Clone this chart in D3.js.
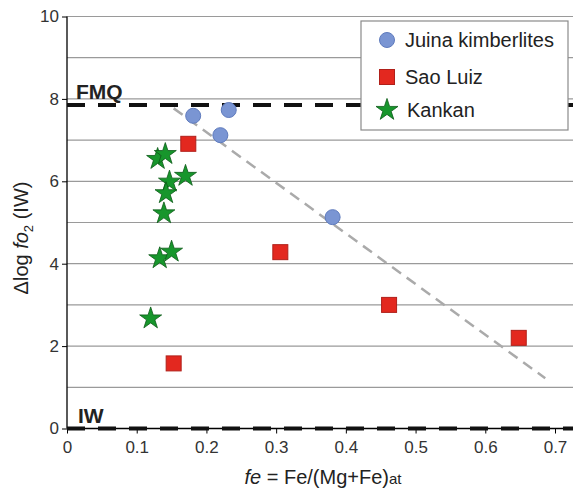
<!DOCTYPE html>
<html>
<head>
<meta charset="utf-8">
<script src="https://cdn.jsdelivr.net/npm/d3@7"></script>
<style>
  body { margin: 0; background: #fff; }
  svg text { font-family: "Liberation Sans", Arial, sans-serif; }
</style>
</head>
<body>
<div id="chart"></div>
<script>
'use strict';

// data
var juina = [[0.181, 7.59], [0.232, 7.73], [0.220, 7.12], [0.381, 5.13]];
var saoLuiz = [[0.174, 6.91], [0.306, 4.28], [0.462, 3.0], [0.648, 2.2], [0.153, 1.58]];
var kankan = [[0.130, 6.54], [0.141, 6.66], [0.147, 5.99], [0.170, 6.13], [0.142, 5.71],
              [0.139, 5.22], [0.133, 4.13], [0.150, 4.29], [0.120, 2.67]];
var trend = [[0.153, 7.77], [0.686, 1.22]];
var fmq = 7.85, iw = 0;
var xTicks = [0, 0.1, 0.2, 0.3, 0.4, 0.5, 0.6, 0.7];
var yTicks = [0, 2, 4, 6, 8, 10];
var legendNames = ['Juina kimberlites', 'Sao Luiz', 'Kankan'];

var width = 573, height = 492;
var plotLeft = 67, plotTop = 16.5, plotBottom = 428.5;

var x = d3.scaleLinear().domain([0, 0.7]).range([plotLeft, 555]);
var y = d3.scaleLinear().domain([0, 10]).range([plotBottom, plotTop]);

var svg = d3.select('#chart').append('svg')
    .attr('width', width)
    .attr('height', height);

// horizontal grid lines
svg.append('g').selectAll('line')
    .data(d3.range(1, 11))
    .enter().append('line')
    .attr('x1', plotLeft).attr('x2', width)
    .attr('y1', function(d) { return y(d); })
    .attr('y2', function(d) { return y(d); })
    .style('stroke', '#9a9a9a')
    .style('stroke-width', 1.2);

// y axis
var yAxis = d3.axisLeft(y).tickValues(yTicks).tickSize(5).tickFormat(d3.format('d'));
var gy = svg.append('g').attr('transform', 'translate(' + plotLeft + ',0)').call(yAxis);
gy.select('.domain').attr('d', 'M0,' + plotTop + 'V' + plotBottom).style('stroke-width', 1.3);
gy.selectAll('text').style('font-size', '17px').attr('x', -8).style('fill', '#333');

// x axis
var xAxis = d3.axisBottom(x).tickValues(xTicks).tickSize(5)
    .tickFormat(function(d) { return d === 0 ? '0' : d3.format('.1f')(d); });
var gx = svg.append('g').attr('transform', 'translate(0,' + plotBottom + ')').call(xAxis);
gx.select('.domain').attr('d', 'M' + plotLeft + ',0H' + width).style('stroke-width', 1.3);
gx.selectAll('text').style('font-size', '17px').attr('y', 12).style('fill', '#333');

// FMQ and IW buffers
svg.selectAll('.buffer')
    .data([fmq, iw])
    .enter().append('line')
    .attr('class', 'buffer')
    .attr('x1', plotLeft).attr('x2', width)
    .attr('y1', function(d) { return y(d); })
    .attr('y2', function(d) { return y(d); })
    .style('stroke', '#111')
    .style('stroke-width', 4)
    .style('stroke-dasharray', '18,13');

svg.append('text').attr('x', plotLeft + 9).attr('y', y(fmq) - 6)
    .style('font-size', '21px').style('font-weight', 'bold').style('fill', '#222')
    .text('FMQ');
svg.append('text').attr('x', plotLeft + 11).attr('y', y(iw) - 6)
    .style('font-size', '21px').style('font-weight', 'bold').style('fill', '#222')
    .text('IW');

// trend line
svg.append('line')
    .attr('x1', x(trend[0][0])).attr('y1', y(trend[0][1]))
    .attr('x2', x(trend[1][0])).attr('y2', y(trend[1][1]))
    .style('stroke', '#aaa')
    .style('stroke-width', 2.5)
    .style('stroke-dasharray', '11,7');

var star = d3.symbol().type(d3.symbolStar).size(150);

function drawCircle(sel) {
    sel.attr('r', 7.5)
        .style('fill', '#7a95d3')
        .style('stroke', '#5f7bbd')
        .style('stroke-width', 1);
}
function drawSquare(sel) {
    sel.attr('width', 15).attr('height', 15)
        .style('fill', '#e3281f')
        .style('stroke', '#b0201a')
        .style('stroke-width', 1);
}
function drawStar(sel) {
    sel.attr('d', star)
        .style('fill', '#17962c')
        .style('stroke', '#0c5a18')
        .style('stroke-width', 0.8);
}

svg.append('g').selectAll('rect')
    .data(saoLuiz).enter().append('rect')
    .attr('x', function(d) { return x(d[0]) - 7.5; })
    .attr('y', function(d) { return y(d[1]) - 7.5; })
    .call(drawSquare);

svg.append('g').selectAll('path')
    .data(kankan).enter().append('path')
    .attr('transform', function(d) { return 'translate(' + x(d[0]) + ',' + y(d[1]) + ')'; })
    .call(drawStar);

svg.append('g').selectAll('circle')
    .data(juina).enter().append('circle')
    .attr('cx', function(d) { return x(d[0]); })
    .attr('cy', function(d) { return y(d[1]); })
    .call(drawCircle);

// legend
var lg = svg.append('g');
lg.append('rect')
    .attr('x', 361).attr('y', 21).attr('width', 207).attr('height', 109)
    .style('fill', '#fff').style('stroke', '#8a8a8a').style('stroke-width', 1.2);
var ly = [40, 77, 110];
lg.append('circle').attr('cx', 387).attr('cy', ly[0]).call(drawCircle);
lg.append('rect').attr('x', 379.5).attr('y', ly[1] - 7.5).call(drawSquare);
lg.append('path').attr('transform', 'translate(387,' + ly[2] + ')').call(drawStar);
lg.selectAll('text')
    .data(legendNames).enter().append('text')
    .attr('x', function(d, i) { return i === 2 ? 407 : 405; })
    .attr('y', function(d, i) { return ly[i] + 7; })
    .style('font-size', '20px').style('fill', '#222')
    .text(function(d) { return d; });

// axis titles
var yt = svg.append('text')
    .attr('transform', 'translate(28,238) rotate(-90)')
    .attr('text-anchor', 'middle')
    .style('font-size', '20px').style('fill', '#222');
yt.append('tspan').text('\u0394log ');
yt.append('tspan').style('font-style', 'italic').text('fo');
yt.append('tspan').attr('dy', 5).style('font-size', '13px').text('2');
yt.append('tspan').attr('dy', -5).text(' (IW)');

var xt = svg.append('text')
    .attr('x', 323).attr('y', 484)
    .attr('text-anchor', 'middle')
    .style('font-size', '20px').style('fill', '#222');
xt.append('tspan').style('font-style', 'italic').text('fe');
xt.append('tspan').text(' = Fe/(Mg+Fe)');
xt.append('tspan').style('font-size', '15px').text('at');
</script>
</body>
</html>
